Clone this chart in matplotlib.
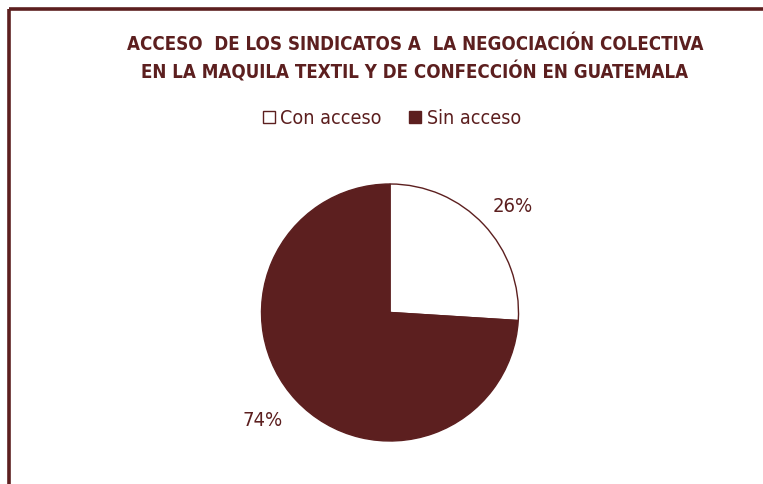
import matplotlib
matplotlib.use("Agg")
import matplotlib.pyplot as plt
from matplotlib.lines import Line2D
from matplotlib.patches import Patch

categories = ["Con acceso", "Sin acceso"]
values = [26, 74]
pct_labels = ["26%", "74%"]
title_lines = ["ACCESO  DE LOS SINDICATOS A  LA NEGOCIACIÓN COLECTIVA",
               "EN LA MAQUILA TEXTIL Y DE CONFECCIÓN EN GUATEMALA"]

maroon = "#5C1F1F"
W, H = 763, 484
fig = plt.figure(figsize=(W / 100, H / 100), dpi=100)
fig.patch.set_facecolor("white")
fam = ["DejaVu Sans"]

# Frame border (top and left)
fig.add_artist(Line2D([8.5 / W, 1.0], [1 - 8.5 / H, 1 - 8.5 / H], color=maroon, lw=2.6,
                      transform=fig.transFigure, solid_capstyle="butt"))
fig.add_artist(Line2D([8.5 / W, 8.5 / W], [0, 1 - 8.5 / H], color=maroon, lw=2.6,
                      transform=fig.transFigure, solid_capstyle="butt"))

# Title
for line, ypx in zip(title_lines, [45, 72]):
    fig.text(415 / W, 1 - ypx / H, line, ha="center", va="center", fontsize=13.4,
             fontweight="bold", color=maroon, family=fam, stretch="condensed")

# Pie
cx, cy, r = 390, 312.5, 128.5
ax = fig.add_axes([(cx - r) / W, (H - cy - r) / H, 2 * r / W, 2 * r / H])
wedges, _ = ax.pie(values, colors=["white", maroon], startangle=90, counterclock=False,
                   wedgeprops=dict(edgecolor=maroon, linewidth=1.0))
ax.set_xlim(-1, 1)
ax.set_ylim(-1, 1)
ax.set_aspect("equal")
ax.axis("off")

def to_data(px, py):
    return (px - cx) / r, (cy - py) / r

for lab, (px, py) in zip(pct_labels, [(513, 206), (262.5, 420)]):
    lx, ly = to_data(px, py)
    ax.text(lx, ly, lab, ha="center", va="center", fontsize=14.5, color=maroon,
            family=fam, stretch="condensed", clip_on=False)

# Legend
handles = [Patch(facecolor="white", edgecolor=maroon, linewidth=1.0),
           Patch(facecolor=maroon, edgecolor=maroon)]
fig.legend(handles, categories, loc="center", bbox_to_anchor=(392 / W, 1 - 118.5 / H),
           ncol=2, frameon=False, handlelength=0.6, handleheight=0.6, handletextpad=0.3,
           columnspacing=1.4, prop=dict(family=fam, size=14.1, stretch="condensed"),
           labelcolor=maroon)

fig.savefig("out.png", dpi=100)
